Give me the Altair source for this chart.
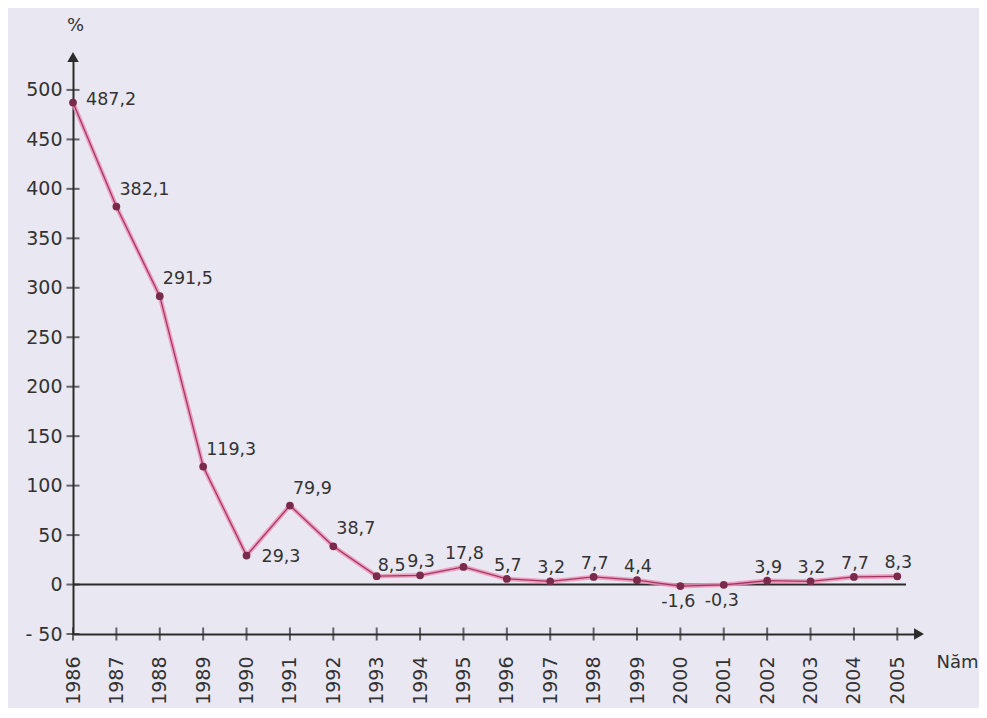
import altair as alt
import pandas as pd

# ---- data ----
years = [1986, 1987, 1988, 1989, 1990, 1991, 1992, 1993, 1994, 1995,
         1996, 1997, 1998, 1999, 2000, 2001, 2002, 2003, 2004, 2005]
values = [487.2, 382.1, 291.5, 119.3, 29.3, 79.9, 38.7, 8.5, 9.3, 17.8,
          5.7, 3.2, 7.7, 4.4, -1.6, -0.3, 3.9, 3.2, 7.7, 8.3]
y_ticks = [-50, 0, 50, 100, 150, 200, 250, 300, 350, 400, 450, 500]

# label placement groups
right_years = [1986]
upright_years = [1987, 1988, 1989, 1991, 1992]
side_years = [1990]
near_years = [1993]
below_years = [2000, 2001]
above_years = [y for y in years if y not in right_years + upright_years + side_years + near_years + below_years]

X_MIN, X_MAX = 1986, 2005.5
Y_MIN, Y_MAX = -50, 533.3

df = pd.DataFrame({"year": years, "value": values})
df["label"] = [f"{v:.1f}".replace(".", ",") for v in values]

FONT = "DejaVu Sans"
INK = "#333333"
AX = "#2b2b2b"

xs = alt.Scale(domain=[X_MIN, X_MAX], nice=False, zero=False)
ys = alt.Scale(domain=[Y_MIN, Y_MAX], nice=False, zero=False)

x_enc = alt.X("year:Q", scale=xs,
              axis=alt.Axis(values=years, format="d", labelAngle=-90, labelAlign="right",
                            labelBaseline="middle", labelPadding=22, ticks=False,
                            grid=False, domainColor=AX, domainWidth=2,
                            labelFont=FONT, labelFontSize=19, labelColor=INK,
                            title="Năm", titleFont=FONT, titleFontSize=18, titleFontWeight="normal",
                            titleColor=INK, titleAnchor="start", titleAlign="left",
                            titleBaseline="middle", titleX=863, titleY=28, labelFlush=False,
                            labelOverlap=False))
y_enc = alt.Y("value:Q", scale=ys,
              axis=alt.Axis(values=y_ticks, ticks=False, grid=False, labelPadding=11,
                            domainColor=AX, domainWidth=2,
                            labelExpr="datum.value < 0 ? '- ' + abs(datum.value) : datum.label",
                            labelFont=FONT, labelFontSize=19, labelColor=INK, labelFlush=False,
                            title="%", titleAngle=0, titleFont=FONT, titleFontSize=18,
                            titleFontWeight="normal", titleColor=INK, titleAlign="center",
                            titleBaseline="middle", titleX=2, titleY=-32))

base = alt.Chart(df)

halo = base.mark_line(color="#ef93b8", strokeWidth=4.5, opacity=0.85).encode(x=x_enc, y=y_enc)
core = base.mark_line(color="#a13863", strokeWidth=1.3).encode(x="year:Q", y="value:Q")
pts = base.mark_point(filled=True, color="#7a2a4a", size=60, opacity=1).encode(x="year:Q", y="value:Q")

# zero line
zero_df = pd.DataFrame({"x": [years[0]], "x2": [years[-1] + 0.2], "y": [0]})
zero = alt.Chart(zero_df).mark_rule(color=AX, strokeWidth=2).encode(
    x="x:Q", x2="x2:Q", y="y:Q")

# crossing ticks
xt = alt.Chart(pd.DataFrame({"year": years, "y": [Y_MIN] * len(years)})).mark_tick(
    orient="vertical", color=AX, size=13, thickness=2).encode(x="year:Q", y="y:Q")
yt = alt.Chart(pd.DataFrame({"x": [X_MIN] * len(y_ticks), "y": y_ticks})).mark_tick(
    orient="horizontal", color=AX, size=13, thickness=2).encode(x="x:Q", y="y:Q")

# arrows
up_arrow = alt.Chart(pd.DataFrame({"x": [X_MIN], "y": [Y_MAX]})).mark_point(
    shape="triangle-up", filled=True, color=AX, size=130, opacity=1).encode(x="x:Q", y="y:Q")
rt_arrow = alt.Chart(pd.DataFrame({"x": [X_MAX], "y": [Y_MIN]})).mark_point(
    shape="triangle-right", filled=True, color=AX, size=130, opacity=1).encode(x="x:Q", y="y:Q")


def labels(sel, **kw):
    return base.transform_filter(
        alt.FieldOneOfPredicate(field="year", oneOf=sel)
    ).mark_text(font=FONT, fontSize=17.5, color=INK, **kw).encode(
        x="year:Q", y="value:Q", text="label:N")


lab_right = labels(right_years, align="left", baseline="middle", dx=13, dy=-3)
lab_upright = labels(upright_years, align="left", baseline="middle", dx=3, dy=-17)
lab_side = labels(side_years, align="left", baseline="middle", dx=15, dy=1)
lab_near = labels(near_years, align="left", baseline="middle", dx=1, dy=-10)
lab_above = labels(above_years, align="center", baseline="middle", dx=1, dy=-13)
lab_below = labels(below_years, align="center", baseline="middle", dx=-2, dy=16)

chart = alt.layer(
    zero, halo, core, xt, yt, up_arrow, rt_arrow, pts,
    lab_right, lab_upright, lab_side, lab_near, lab_above, lab_below
).properties(
    width=846, height=577,
    autosize=alt.AutoSizeParams(type="none"),
    padding={"left": 65, "top": 49, "right": 60, "bottom": 74},
    background="#e9e8f2",
).configure_view(stroke=None)

chart.save("out.html", embed_options={"renderer": "svg", "actions": False})
